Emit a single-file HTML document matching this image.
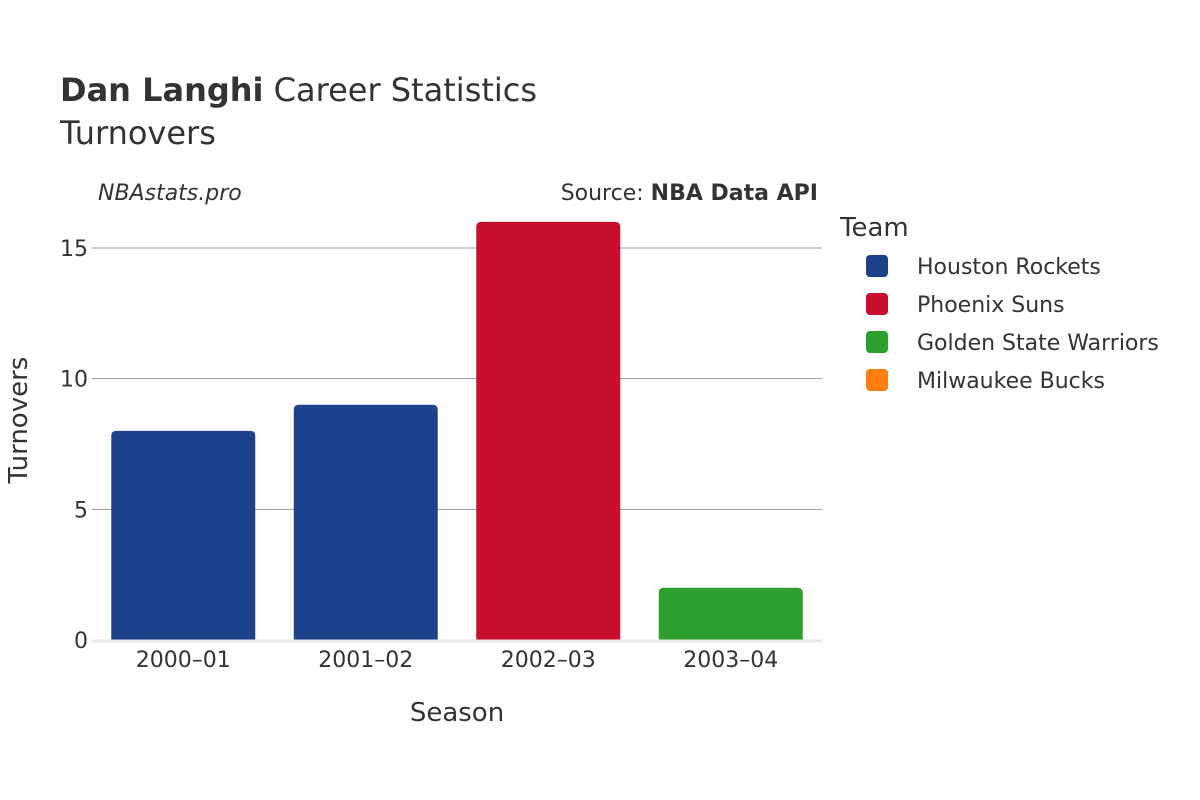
<!DOCTYPE html>
<html><head><meta charset="utf-8"><style>
body{margin:0;background:#fff;}
svg{display:block;font-family:"DejaVu Sans","Liberation Sans",sans-serif;}
</style></head><body>
<svg id="chart" width="1200" height="800">
<rect width="1200" height="800" fill="#fff"/>
<text x="60" y="101" font-size="32" fill="#333"><tspan font-weight="bold">Dan Langhi</tspan> Career Statistics</text>
<text x="60" y="144" font-size="32" fill="#333">Turnovers</text>
<text x="98" y="200" font-size="22" font-style="italic" fill="#333">NBAstats.pro</text>
<text x="818" y="200" font-size="22" fill="#333" text-anchor="end">Source: <tspan font-weight="bold">NBA Data API</tspan></text>
<g id="grid"></g>
<g id="bars"></g>
<g id="xticks"></g>
<g id="yticks"></g>
<text x="457" y="721" font-size="26" fill="#333" text-anchor="middle">Season</text>
<text transform="translate(27,420) rotate(-90)" font-size="26" fill="#333" text-anchor="middle">Turnovers</text>
<text x="840" y="236" font-size="26" fill="#333">Team</text>
<g id="legend"></g>
</svg>
<script>
const seasons=["2000–01","2001–02","2002–03","2003–04"];
const turnovers=[8,9,16,2];
const barTeams=["Houston Rockets","Houston Rockets","Phoenix Suns","Golden State Warriors"];
const teams=["Houston Rockets","Phoenix Suns","Golden State Warriors","Milwaukee Bucks"];
const teamColors=["#1d428a","#c8102e","#2ca02c","#ff7f0e"];
const yTicks=[0,5,10,15];
const NS="http://www.w3.org/2000/svg";
const X0=92,X1=822,Y0=640,PER=(640-248)/15;
const band=(X1-X0)/seasons.length;
const y=v=>Y0-v*PER;
const xc=i=>X0+band*(i+0.5);
function mk(tag,attrs,parent){const e=document.createElementNS(NS,tag);for(const k in attrs)e.setAttribute(k,attrs[k]);document.getElementById(parent).appendChild(e);return e;}
yTicks.forEach(t=>{
  if(t>0){const l=mk("line",{x1:X0,x2:X1,y1:y(t),y2:y(t),stroke:"#999","stroke-width":1},"grid");
  
  }
  const tx=mk("text",{x:88,y:y(t)+8,"font-size":22,fill:"#333","text-anchor":"end"},"yticks");tx.textContent=t;
  
  
});
const bw=144;
seasons.forEach((s,i)=>{
  const v=turnovers[i],top=y(v),h=Y0-top,x=xc(i)-bw/2,r=5;
  const col=teamColors[teams.indexOf(barTeams[i])];
  const p=mk("path",{d:`M${x},${Y0}V${top+r}Q${x},${top} ${x+r},${top}H${x+bw-r}Q${x+bw},${top} ${x+bw},${top+r}V${Y0}Z`,fill:col},"bars");
  
  
  const tx=mk("text",{x:xc(i),y:667,"font-size":22,fill:"#333","text-anchor":"middle"},"xticks");tx.textContent=s;
  
  
});
const base=mk("line",{x1:X0,x2:X1,y1:Y0+1,y2:Y0+1,stroke:"#e8e8e8","stroke-width":3},"bars");


teams.forEach((t,i)=>{
  const cy=266+i*38;
  const g=mk("g",{},"legend");
  
  
  const r=document.createElementNS(NS,"rect");
  r.setAttribute("x",866);r.setAttribute("y",cy-11);r.setAttribute("width",22);r.setAttribute("height",22);r.setAttribute("rx",4);r.setAttribute("fill",teamColors[i]);
  g.appendChild(r);
  const tx=document.createElementNS(NS,"text");
  tx.setAttribute("x",917);tx.setAttribute("y",cy+8);tx.setAttribute("font-size",22);tx.setAttribute("fill","#333");
  tx.textContent=t;g.appendChild(tx);
});
</script>
</body></html>
